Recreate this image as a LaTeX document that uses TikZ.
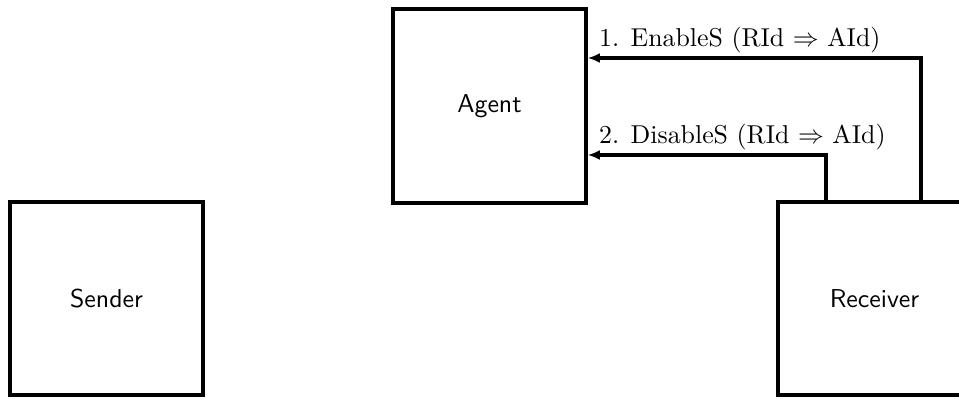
\documentclass[tikz,border=0pt]{standalone}
\usepackage{tikz}
\usetikzlibrary{arrows.meta}
\newcommand{\bigtxt}[1]{\scalebox{1.47}{#1}}

\begin{document}
\begin{tikzpicture}
    \tikzset{agentbox/.style = {shape=rectangle, draw, line width=2.3pt, minimum width=3.85cm, minimum height=3.87cm, font=\sffamily}}
    \tikzset{edge/.style = {draw=black, line width=2.3pt, -{Latex[length=2.4mm,width=2mm]}}}
    \tikzset{msg/.style = {anchor=base west, inner sep=0pt}}
    \useasboundingbox (0,0) rectangle (19.18,7.98);
    % boxes
    \node[agentbox] (snd) at (2.13,2.01) {\bigtxt{Sender}};
    \node[agentbox] (agt) at (9.79,5.86) {\bigtxt{Agent}};
    \node[agentbox] (rcv) at (17.49,2.01) {\bigtxt{Receiver}};
    % bends
    \coordinate (e1) at (18.42,6.82);
    \coordinate (e2) at (16.52,4.88);
    % messages
    \draw[edge] (rcv.north -| e1) |- (agt.east |- e1);
    \draw[edge] (rcv.north -| e2) |- (agt.east |- e2);
    \node[msg] (m1) at ([shift={(0.22,0.22)}]agt.east |- e1) {\bigtxt{1. EnableS (RId $\Rightarrow$ AId)}};
    \node[msg] (m2) at ([shift={(0.22,0.22)}]agt.east |- e2) {\bigtxt{2. DisableS (RId $\Rightarrow$ AId)}};
\end{tikzpicture}
\end{document}
